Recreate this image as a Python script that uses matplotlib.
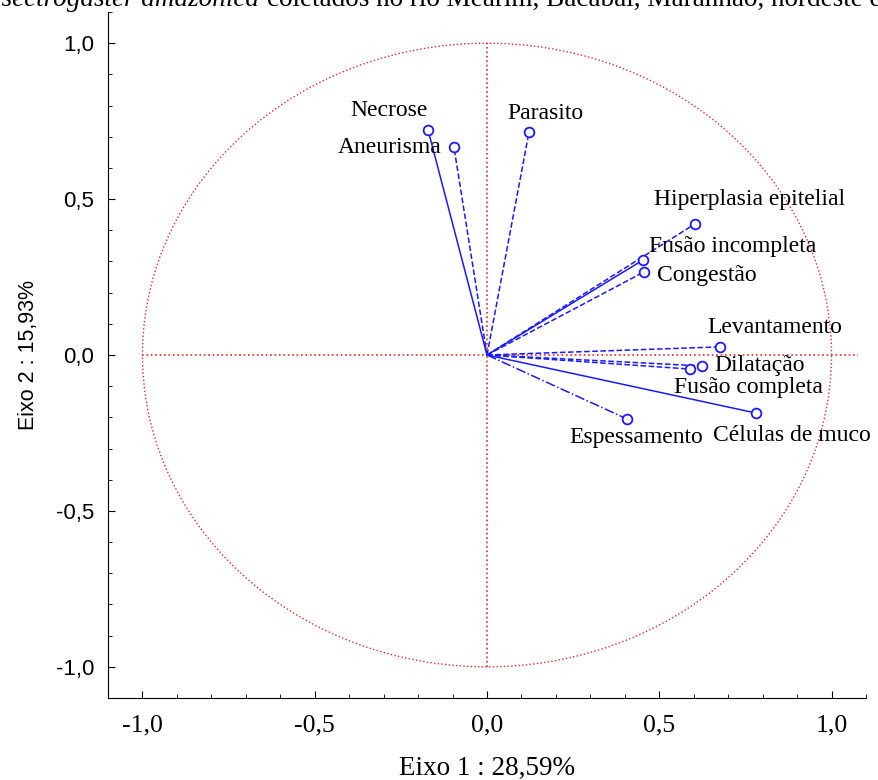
import numpy as np
import matplotlib
matplotlib.use("Agg")
import matplotlib.pyplot as plt
from matplotlib.ticker import FuncFormatter, MultipleLocator

# PCA loadings (Eixo 1, Eixo 2)
variables = ["Necrose", "Aneurisma", "Parasito", "Hiperplasia epitelial",
             "Fusão incompleta", "Congestão", "Levantamento", "Dilatação",
             "Fusão completa", "Células de muco", "Espessamento"]
eixo1 = [-0.171, -0.096, 0.122, 0.603, 0.452, 0.455, 0.675, 0.623, 0.588, 0.780, 0.406]
eixo2 = [0.721, 0.667, 0.715, 0.420, 0.304, 0.266, 0.026, -0.035, -0.045, -0.186, -0.205]

# line style per variable and label offset (pixels) from the marker
styles = ["-", "--", "--", "--", "-", "--", "--", "--", "--", "-", "-."]
offsets = [(-39, 20), (-12, 0), (16, 19), (-41, 25), (6, 14), (13, -3),
           (-12, 19), (13, 0), (-16, -18), (-43, -23), (-58, -19)]
aligns = ["center", "right", "center", "left", "left", "left",
          "left", "left", "left", "left", "left"]

pct1 = "28,59%"
pct2 = "15,93%"

serif = "Liberation Serif"
sans = "Liberation Sans"
blue = "#1a1aff"
red = "#e8282a"

fig = plt.figure(figsize=(8.79, 7.8), dpi=100)
ax = fig.add_axes([108 / 879, 82 / 780, 758 / 879, 686 / 780])

# unit circle and cross
t = np.linspace(0, 2 * np.pi, 400)
ax.plot(np.cos(t), np.sin(t), color=red, ls=":", lw=1)
ax.plot([-1, 1.078], [0, 0], color=red, ls=":", lw=1.2)
ax.plot([0, 0], [-1, 1], color=red, ls=":", lw=1.2)

for name, x, y, st, off, ha in zip(variables, eixo1, eixo2, styles, offsets, aligns):
    ax.plot([0, x], [0, y], color=blue, ls=st, lw=1.1)
    ax.plot(x, y, "o", mfc="white", mec=blue, mew=1.3, ms=7)
    ax.annotate(name, (x, y), xytext=off, textcoords="offset pixels",
                ha=ha, va="center", fontsize=17, family=serif)

ax.set_xlim(-1.1, 1.1)
ax.set_ylim(-1.1, 1.1)
for s in ["top", "right"]:
    ax.spines[s].set_visible(False)

fmt = FuncFormatter(lambda v, p: ("%.1f" % v).replace(".", ",").replace("-0,0", "0,0"))
ax.xaxis.set_major_locator(MultipleLocator(0.5))
ax.xaxis.set_minor_locator(MultipleLocator(0.1))
ax.yaxis.set_major_locator(MultipleLocator(0.5))
ax.yaxis.set_minor_locator(MultipleLocator(0.1))
ax.xaxis.set_major_formatter(fmt)
ax.yaxis.set_major_formatter(fmt)
ax.tick_params(axis="x", which="major", direction="in", length=5, pad=12)
ax.tick_params(axis="x", which="minor", direction="in", length=3)
ax.tick_params(axis="y", which="major", direction="in", length=5, pad=10)
ax.tick_params(axis="y", which="minor", direction="in", length=3)
for lab in ax.get_xticklabels():
    lab.set_family(serif)
    lab.set_fontsize(18.5)
for lab in ax.get_yticklabels():
    lab.set_family(sans)
    lab.set_fontsize(16)

ax.set_xlabel("Eixo 1 : " + pct1, fontsize=19.5, family=serif, labelpad=14)
ax.set_ylabel("Eixo 2 : " + pct2, fontsize=15.5, family=sans, labelpad=12)

# cut-off caption from the page above
fig.text(259 / 879, 1 - 6 / 780, "Psectrogaster amazonica", ha="right", va="baseline",
         fontsize=19.5, family=serif, style="italic")
fig.text(267 / 879, 1 - 6 / 780, "coletados no rio Mearim, Bacabal, Maranhão, nordeste do Brasil",
         ha="left", va="baseline", fontsize=19.5, family=serif)

fig.savefig("out.png", dpi=100)
